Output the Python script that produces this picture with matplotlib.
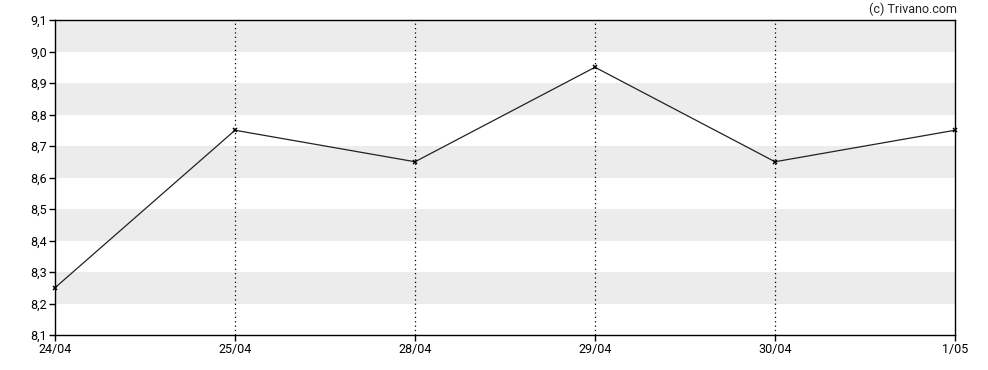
import matplotlib
matplotlib.use("Agg")
import matplotlib.pyplot as plt
import numpy as np

# ── data ──────────────────────────────────────────────────────────────────────
dates  = ["24/04", "25/04", "28/04", "29/04", "30/04", "1/05"]
prices = [8.25, 8.75, 8.65, 8.95, 8.65, 8.75]

y_min, y_max, y_step = 8.1, 9.1, 0.1

plt.rcParams["font.family"] = ["Roboto", "DejaVu Sans"]

fig = plt.figure(figsize=(9.88, 3.70), dpi=100)
ax = fig.add_axes([55 / 988, 1 - 335 / 370, 900 / 988, 315 / 370])

x = np.arange(len(dates))

# alternating bands (grey from 9.0-9.1, 8.8-8.9, ...)
yt = np.round(np.arange(y_min, y_max + 1e-9, y_step), 1)
for i in range(len(yt) - 1):
    if (len(yt) - 2 - i) % 2 == 0:
        ax.axhspan(yt[i], yt[i + 1], color="#ececec", lw=0, zorder=0)

# vertical dotted lines at inner dates
for xi in x[1:-1]:
    ax.axvline(xi, color="black", lw=0.9, ls=(0, (1, 2.5)), zorder=1)

ax.plot(x, prices, color="#222222", lw=0.9, marker="x", ms=3.2,
        mew=1.1, mec="black", zorder=3, clip_on=False)

ax.set_xlim(x[0], x[-1])
ax.set_ylim(y_min, y_max)
ax.set_xticks(x)
ax.set_xticklabels(dates)
ax.set_yticks(yt)
ax.set_yticklabels([f"{v:.1f}".replace(".", ",") for v in yt])
ax.tick_params(length=4, width=1, labelsize=9, colors="black", pad=2)
for s in ax.spines.values():
    s.set_linewidth(1)
    s.set_color("black")

fig.text(957 / 988, 1 - 9 / 370, "(c) Trivano.com", ha="right", va="center",
         fontsize=9, color="#222222")

fig.savefig("out.png", dpi=100)
